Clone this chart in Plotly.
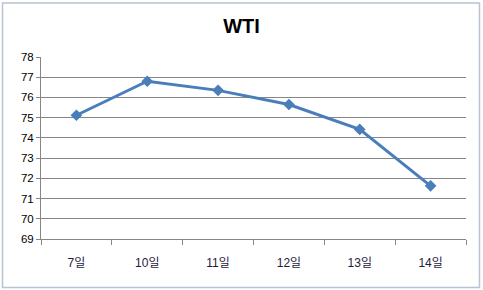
import plotly.graph_objects as go

categories = ["7일", "10일", "11일", "12일", "13일", "14일"]
values = [75.12, 76.8, 76.35, 75.65, 74.42, 71.63]
y_ticks = list(range(69, 79))

W, H = 483, 290
L, R, T, B = 41, 17, 57, 51
pw, ph = W - L - R, H - T - B

def px(x):
    return (x - L) / pw

def py(y):
    return (H - B - y) / ph

fig = go.Figure()
fig.add_trace(go.Scatter(
    x=categories, y=values, mode="lines+markers",
    line=dict(color="#4A7EBB", width=3),
    marker=dict(symbol="diamond", size=9, color="#4A7EBB"),
    showlegend=False,
))

font = "Liberation Sans, Noto Sans CJK KR, sans-serif"
fig.update_layout(
    width=W, height=H,
    margin=dict(l=L, r=R, t=T, b=B),
    paper_bgcolor="white", plot_bgcolor="white",
    title=dict(text="<b>WTI</b>", x=0.5, xanchor="center", y=1 - 26 / H, yanchor="middle",
               font=dict(family=font, size=20, color="black")),
    font=dict(family=font, size=11, color="black"),
    xaxis=dict(type="category", range=[-0.5, 5.5], tickson="boundaries",
               ticks="outside", ticklen=5, tickcolor="#868686",
               showline=True, linecolor="#868686", linewidth=1,
               showgrid=False, tickfont=dict(color="#1F1A3A", size=12),
               ticklabelstandoff=13),
    yaxis=dict(range=[69, 78], tickvals=y_ticks, ticks="outside", ticklen=4,
               tickcolor="#868686", showline=True, linecolor="#868686",
               showgrid=True, gridcolor="#868686", gridwidth=1,
               zeroline=False, tickfont=dict(size=11.5, color="black")),
    shapes=[dict(type="rect", xref="paper", yref="paper",
                 x0=px(2.5), x1=px(479.5), y0=py(287.5), y1=py(3),
                 line=dict(color="#B8C4CF", width=1.5), layer="below")],
)
fig.write_html("out.html")
